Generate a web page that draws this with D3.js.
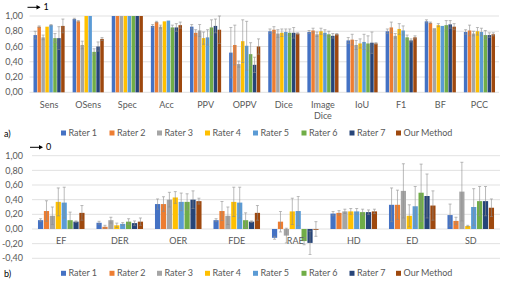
<!DOCTYPE html>
<html>
<head>
<meta charset="utf-8">
<script src="https://cdn.jsdelivr.net/npm/d3@7"></script>
<style>
  body { margin: 0; background: #fff; }
  text { font-family: Lato, "Open Sans", sans-serif; fill: #595959; }
</style>
</head>
<body>
<svg id="chart" width="507" height="285"></svg>
<script>
const seriesNames = ['Rater 1', 'Rater 2', 'Rater 3', 'Rater 4', 'Rater 5', 'Rater 6', 'Rater 7', 'Our Method'];
const seriesColors = ['#4472C4', '#ED7D31', '#A5A5A5', '#FFC000', '#5B9BD5', '#70AD47', '#264478', '#9E480E'];

// panel a)
const categoriesA = ['Sens', 'OSens', 'Spec', 'Acc', 'PPV', 'OPPV', 'Dice', 'Image\nDice', 'IoU', 'F1', 'BF', 'PCC'];
const valuesA = [
  [0.75, 0.96, 1.00, 0.87, 0.86, 0.52, 0.80, 0.79, 0.68, 0.80, 0.93, 0.79],
  [0.86, 0.93, 1.00, 0.92, 0.78, 0.62, 0.82, 0.81, 0.69, 0.85, 0.91, 0.81],
  [0.72, 0.62, 1.00, 0.86, 0.81, 0.37, 0.77, 0.76, 0.62, 0.74, 0.84, 0.77],
  [0.86, 1.00, 1.00, 0.93, 0.71, 0.67, 0.78, 0.80, 0.64, 0.83, 0.88, 0.80],
  [0.88, 1.00, 1.00, 0.94, 0.72, 0.61, 0.79, 0.78, 0.66, 0.81, 0.87, 0.79],
  [0.71, 0.53, 1.00, 0.85, 0.85, 0.50, 0.78, 0.76, 0.64, 0.72, 0.88, 0.75],
  [0.71, 0.60, 1.00, 0.85, 0.87, 0.36, 0.78, 0.74, 0.65, 0.68, 0.89, 0.75],
  [0.87, 0.70, 1.00, 0.88, 0.82, 0.60, 0.77, 0.76, 0.64, 0.72, 0.86, 0.76]
];
const errorsA = [
  [0.05, 0.01, 0, 0.02, 0.03, 0.33, 0.03, 0.02, 0.04, 0.03, 0.02, 0.03],
  [0.01, 0.01, 0, 0.01, 0.04, 0.26, 0.04, 0.03, 0.07, 0.07, 0.01, 0.07],
  [0.03, 0.05, 0, 0.02, 0.08, 0.04, 0.05, 0.03, 0.06, 0.03, 0, 0.03],
  [0, 0, 0, 0, 0.08, 0.28, 0.05, 0.04, 0.06, 0.07, 0.02, 0.05],
  [0.01, 0, 0, 0, 0.10, 0.32, 0.04, 0.04, 0.10, 0.06, 0, 0.05],
  [0.06, 0.04, 0, 0.03, 0.10, 0.15, 0.05, 0.04, 0.10, 0.03, 0.06, 0.06],
  [0.15, 0.06, 0, 0.05, 0.09, 0.10, 0.07, 0.03, 0.14, 0.02, 0.05, 0.03],
  [0.09, 0.02, 0, 0.04, 0.18, 0.10, 0.01, 0.01, 0.01, 0.02, 0.04, 0.02]
];
const ticksA = [0, 0.2, 0.4, 0.6, 0.8, 1.0];

// panel b)
const categoriesB = ['EF', 'DER', 'OER', 'FDE', 'RAE', 'HD', 'ED', 'SD'];
const valuesB = [
  [0.12, 0.085, 0.34, 0.12, -0.12, 0.21, 0.33, 0.19],
  [0.245, 0.03, 0.34, 0.245, 0.10, 0.22, 0.33, 0.11],
  [0.18, 0.12, 0.40, 0.18, -0.09, 0.24, 0.52, 0.51],
  [0.37, 0.05, 0.43, 0.37, 0.24, 0.24, 0.18, 0.04],
  [0.36, 0.07, 0.37, 0.36, 0.245, 0.24, 0.31, 0.30],
  [0.12, 0.10, 0.37, 0.12, -0.165, 0.23, 0.495, 0.38],
  [0.10, 0.08, 0.40, 0.10, -0.19, 0.23, 0.45, 0.38],
  [0.22, 0.10, 0.38, 0.22, 0.00, 0.24, 0.32, 0.29]
];
const errorsB = [
  [0.02, 0.02, 0.07, 0.02, 0.02, 0.03, 0.23, 0.15],
  [0.14, 0.02, 0.10, 0.13, 0.14, 0.03, 0.20, 0.05],
  [0.12, 0.04, 0.10, 0.12, 0.10, 0.03, 0.37, 0.40],
  [0.19, 0.03, 0.08, 0.20, 0.18, 0.04, 0.15, 0.01],
  [0.21, 0.02, 0.12, 0.21, 0.20, 0.04, 0.27, 0.25],
  [0.11, 0.04, 0.11, 0.10, 0.05, 0.04, 0.39, 0.20],
  [0.01, 0.03, 0.12, 0.01, 0.16, 0.03, 0.30, 0.20],
  [0.10, 0.05, 0.04, 0.10, 0.10, 0.03, 0.20, 0.12]
];
const ticksB = [-0.4, -0.2, 0, 0.2, 0.4, 0.6, 0.8, 1.0];

const svg = d3.select('#chart');
const fmt = v => d3.format('.2f')(v).replace('.', ',').replace('−', '-');

function drawPanel(opts) {
  const { cats, values, errors, ticks, yRange, xRange, top, arrowLabel, labelY, legendY, tag } = opts;
  const g = svg.append('g');

  const y = d3.scaleLinear().domain([ticks[0], ticks[ticks.length - 1]]).range(yRange);
  const x0 = d3.scaleBand().domain(cats).range(xRange).paddingInner(0.18).paddingOuter(0.09);
  const x1 = d3.scaleBand().domain(seriesNames).range([0, x0.bandwidth()]).padding(0.12);

  // gridlines
  g.append('g').selectAll('line').data(ticks).join('line')
    .attr('x1', xRange[0]).attr('x2', xRange[1])
    .attr('y1', d => y(d)).attr('y2', d => y(d))
    .attr('stroke', '#d9d9d9').attr('stroke-width', 0.8);

  // tick labels
  g.append('g').selectAll('text').data(ticks).join('text')
    .attr('x', 23).attr('y', d => y(d)).attr('dy', '0.35em')
    .attr('text-anchor', 'end').attr('font-size', 9)
    .text(d => fmt(d));

  // arrow marker at top
  g.append('line').attr('x1', xRange[0] - 2).attr('x2', xRange[0] + 10)
    .attr('y1', top).attr('y2', top).attr('stroke', '#000').attr('stroke-width', 1);
  g.append('path')
    .attr('d', `M${xRange[0] + 11},${top} l-4,-2.2 v4.4 z`).attr('fill', '#000');
  g.append('text').attr('x', xRange[0] + 14).attr('y', top).attr('dy', '0.35em')
    .attr('font-size', 9).style('fill', '#000').text(arrowLabel);

  // bars
  const groups = g.append('g').selectAll('g').data(cats).join('g')
    .attr('transform', d => `translate(${x0(d)},0)`);

  groups.selectAll('rect').data((c, ci) => seriesNames.map((s, si) => ({ s, si, v: values[si][ci], e: errors[si][ci] })))
    .join('rect')
    .attr('x', d => x1(d.s))
    .attr('width', x1.bandwidth())
    .attr('y', d => y(Math.max(0, d.v)))
    .attr('height', d => Math.max(0.8, Math.abs(y(d.v) - y(0))))
    .attr('fill', d => seriesColors[d.si]);

  // error bars
  const eb = groups.selectAll('g.err').data((c, ci) => seriesNames.map((s, si) => ({ s, v: values[si][ci], e: errors[si][ci] })))
    .join('g').attr('class', 'err')
    .attr('stroke', '#8c8c8c').attr('stroke-width', 0.7).attr('opacity', 0.85);
  eb.filter(d => d.e > 0).append('line')
    .attr('x1', d => x1(d.s) + x1.bandwidth() / 2).attr('x2', d => x1(d.s) + x1.bandwidth() / 2)
    .attr('y1', d => y(d.v + d.e)).attr('y2', d => y(d.v - d.e));
  eb.filter(d => d.e > 0).append('line')
    .attr('x1', d => x1(d.s) + x1.bandwidth() / 2 - 1.5).attr('x2', d => x1(d.s) + x1.bandwidth() / 2 + 1.5)
    .attr('y1', d => y(d.v + d.e)).attr('y2', d => y(d.v + d.e));
  eb.filter(d => d.e > 0).append('line')
    .attr('x1', d => x1(d.s) + x1.bandwidth() / 2 - 1.5).attr('x2', d => x1(d.s) + x1.bandwidth() / 2 + 1.5)
    .attr('y1', d => y(d.v - d.e)).attr('y2', d => y(d.v - d.e));

  // category labels
  g.append('g').selectAll('text').data(cats).join('text')
    .attr('x', d => x0(d) + x0.bandwidth() / 2).attr('y', labelY)
    .attr('text-anchor', 'middle').attr('font-size', 9)
    .each(function (d) {
      d.split('\n').forEach((line, i) => {
        d3.select(this).append('tspan').attr('x', x0(d) + x0.bandwidth() / 2)
          .attr('dy', i === 0 ? '0.35em' : '1.25em').text(line);
      });
    });

  // legend
  const legendX = [61, 109.5, 157, 205, 253, 301.5, 349.5, 396];
  const lg = g.append('g').selectAll('g').data(seriesNames).join('g')
    .attr('transform', (d, i) => `translate(${legendX[i]},${legendY})`);
  lg.append('rect').attr('x', 0).attr('y', -2.5).attr('width', 5).attr('height', 5)
    .attr('fill', (d, i) => seriesColors[i]);
  lg.append('text').attr('x', 7.5).attr('y', 0).attr('dy', '0.35em')
    .attr('font-size', 9).text(d => d);

  g.append('text').attr('x', 4).attr('y', legendY + 1).attr('dy', '0.35em')
    .attr('font-size', 9).style('fill', '#000').text(tag);
}

drawPanel({
  cats: categoriesA, values: valuesA, errors: errorsA, ticks: ticksA,
  yRange: [92.3, 16], xRange: [29.5, 499], top: 7.3, arrowLabel: '1',
  labelY: 104.7, legendY: 133, tag: 'a)'
});

drawPanel({
  cats: categoriesB, values: valuesB, errors: errorsB, ticks: ticksB,
  yRange: [258.3, 155.7], xRange: [32, 500], top: 147.3, arrowLabel: '0',
  labelY: 240.5, legendY: 273.3, tag: 'b)'
});
</script>
</body>
</html>
